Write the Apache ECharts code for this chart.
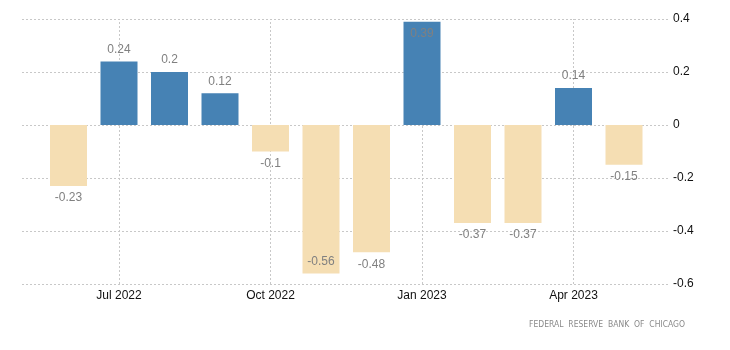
<!DOCTYPE html>
<html>
<head>
<meta charset="utf-8">
<script src="https://cdn.jsdelivr.net/npm/echarts@6/dist/echarts.min.js"></script>
<style>html,body{margin:0;padding:0;background:#fff}#c{width:730px;height:350px}</style>
</head>
<body>
<div id="c"></div>
<script>
const months = ['Jun 2022','Jul 2022','Aug 2022','Sep 2022','Oct 2022','Nov 2022','Dec 2022','Jan 2023','Feb 2023','Mar 2023','Apr 2023','May 2023'];
const values = [-0.23, 0.24, 0.2, 0.12, -0.1, -0.56, -0.48, 0.39, -0.37, -0.37, 0.14, -0.15];
const tickMonths = ['Jul 2022','Oct 2022','Jan 2023','Apr 2023'];
const yMin = -0.6, yMax = 0.4, yStep = 0.2;
const sourceText = 'FEDERAL  RESERVE  BANK  OF  CHICAGO';

const FONT = 'Liberation Sans, Arial, sans-serif';
const dotted = {color:'#c8c8c8', type:[2,2], width:1};
const showIdx = (i) => tickMonths.indexOf(months[i]) >= 0;

const barData = values.map(v => {
  let pos = v >= 0 ? 'top' : 'bottom';
  if (v > yMax - 0.05) pos = 'insideTop';
  if (v < yMin + 0.07) pos = 'insideBottom';
  return {
    value: v,
    itemStyle: {color: v >= 0 ? '#4682B4' : '#F5DEB3'},
    label: {position: pos}
  };
});

const chart = echarts.init(document.getElementById('c'), null, {renderer:'canvas'});
chart.setOption({
  animation: false,
  backgroundColor: '#fff',
  grid: [
    {left: 22, right: 62, top: 19, bottom: 66},
    {left: 43.25, right: 80.75, top: 19, bottom: 66}
  ],
  xAxis: [
    {gridIndex: 0, type: 'value', min: 0, max: 1, show: false},
    {gridIndex: 1, type: 'category', data: months, boundaryGap: true,
     axisLine: {show: false},
     axisTick: {show: true, alignWithLabel: true, length: 4, interval: (i) => showIdx(i), lineStyle: dotted},
     axisLabel: {interval: (i) => showIdx(i), color: '#111', fontFamily: FONT, fontSize: 12, margin: 6},
     splitLine: {show: false}}
  ],
  yAxis: [
    {gridIndex: 0, type: 'value', position: 'right', min: yMin, max: yMax, interval: yStep,
     axisLine: {show: false}, axisTick: {show: false},
     axisLabel: {color: '#111', fontFamily: FONT, fontSize: 12, margin: 5},
     splitLine: {show: true, lineStyle: dotted}},
    {gridIndex: 1, type: 'value', min: yMin, max: yMax, interval: yStep, show: false, splitLine: {show: false}}
  ],
  series: [{
    type: 'bar',
    xAxisIndex: 1, yAxisIndex: 1,
    barWidth: 37,
    z: 3,
    data: barData,
    label: {show: true, color: '#808080', fontFamily: FONT, fontSize: 12, distance: 6,
            formatter: (p) => String(p.value)},
    markLine: {
      silent: true, z: 1, symbol: ['none','none'], label: {show: false},
      lineStyle: dotted,
      data: tickMonths.map(m => ({xAxis: m}))
    }
  }],
  graphic: [{
    type: 'text', right: 45, top: 320,
    style: {text: sourceText, fill: '#8a8a8a', font: '8.5px "Liberation Sans Narrow", "DejaVu Sans Condensed", Arial, sans-serif'}
  }]
});
</script>
</body>
</html>
